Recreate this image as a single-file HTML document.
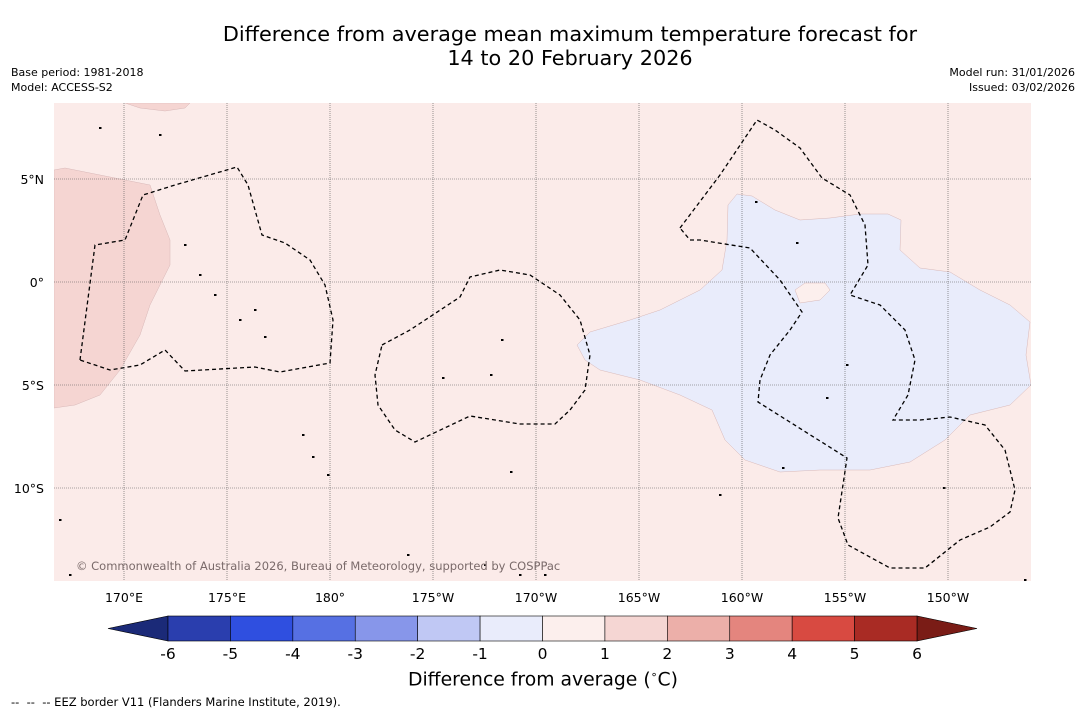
<!DOCTYPE html>
<html><head><meta charset="utf-8"><style>
body{margin:0;background:#fff;font-family:"DejaVu Sans",sans-serif;}
#wrap{position:relative;width:1085px;height:713px;overflow:hidden;background:#fff}
.t{position:absolute;white-space:nowrap;color:#000}
</style></head><body>
<div id="wrap">
<div class="t" style="left:0;width:1140px;text-align:center;top:22px;font-size:20.8px;line-height:24px">Difference from average mean maximum temperature forecast for<br>14 to 20 February 2026</div>
<div class="t" style="left:11px;top:65px;font-size:11px;line-height:15px">Base period: 1981-2018<br>Model: ACCESS-S2</div>
<div class="t" style="right:10px;top:65px;font-size:11px;line-height:15px;text-align:right">Model run: 31/01/2026<br>Issued: 03/02/2026</div>
<svg id="svg" width="1085" height="713" style="position:absolute;left:0;top:0"></svg>
<div class="t" style="left:408px;top:668px;font-size:18.8px">Difference from average (<sup style="font-size:11px">∘</sup>C)</div>
<div class="t" style="left:11px;top:695px;font-size:11.5px;white-space:pre">--  --  -- EEZ border V11 (Flanders Marine Institute, 2019).</div>
</div>
<script>
const lonTicks=[170,175,180,185,190,195,200,205,210];
const lonLabels=["170°E","175°E","180°","175°W","170°W","165°W","160°W","155°W","150°W"];
const latTicks=[5,0,-5,-10];
const latLabels=["5°N","0°","5°S","10°S"];
const cbTicks=[-6,-5,-4,-3,-2,-1,0,1,2,3,4,5,6];
const cbColors=["#2a3eae","#2f4fe0","#5670e3","#8796ea","#c0c8f4","#e9ecfb","#fcefed","#f5d6d3","#ecafa9","#e4857e","#d84a41","#a92b24"];
const P=p=>[170+(p[0]-124)/20.6,(282-p[1])/20.6];
const blueRegion=[[577,345],[590,332],[630,320],[660,310],[700,290],[722,270],[727,240],[728,205],[737,194],[752,196],[775,210],[800,220],[830,218],[860,214],[888,214],[901,220],[900,250],[920,268],[950,272],[980,290],[1010,305],[1030,322],[1026,355],[1031,385],[1010,405],[970,415],[945,440],[910,462],[870,470],[820,470],[780,472],[745,460],[725,440],[712,410],[680,395],[640,380],[600,370],[585,360]].map(P);
const pinkLeft=[[54,170],[65,168],[100,175],[150,185],[160,215],[170,240],[170,265],[160,285],[150,305],[140,335],[120,370],[100,395],[75,405],[54,408]].map(P);
const pinkTop=[[125,103],[190,103],[185,108],[165,111],[140,108]].map(P);
const pinkSpot=[[795,290],[805,283],[825,283],[830,290],[820,300],[800,303]].map(P);
const islands=[[100,128],[160,135],[185,245],[200,275],[215,295],[240,320],[255,310],[265,337],[303,435],[313,457],[328,475],[443,378],[491,375],[502,340],[511,472],[485,565],[520,575],[545,575],[408,555],[60,520],[70,575],[720,495],[756,202],[797,243],[847,365],[827,398],[783,468],[944,488],[1025,580]].map(P);
const eez=[
[[80,360],[95,245],[125,240],[143,195],[175,185],[237,167],[248,185],[262,235],[285,243],[310,260],[325,285],[333,320],[330,363],[280,372],[255,367],[185,371],[165,350],[140,365],[110,370],[80,360]],
[[382,345],[410,330],[460,297],[470,277],[500,270],[530,275],[560,295],[580,320],[590,355],[585,390],[570,410],[555,424],[520,424],[470,416],[415,442],[395,430],[378,405],[375,375],[382,345]],
[[680,228],[720,175],[757,120],[775,130],[800,148],[822,178],[850,195],[865,225],[868,265],[850,295],[880,305],[905,330],[915,360],[908,395],[893,420],[920,420],[950,417],[985,425],[1005,450],[1015,490],[1010,512],[990,527],[960,540],[925,568],[890,568],[848,545],[838,518],[847,458],[758,402],[760,380],[770,355],[790,330],[802,312],[780,280],[750,248],[700,240],[690,240],[680,228]]
].map(l=>l.map(P));
const X=lon=>124+(lon-170)*20.6, Y=lat=>282-lat*20.6;
const svg=document.getElementById('svg');const NS="http://www.w3.org/2000/svg";
function mk(t,a,p){const e=document.createElementNS(NS,t);for(const k in a)e.setAttribute(k,a[k]);(p||svg).appendChild(e);return e;}
const clip=mk('clipPath',{id:'mc'});mk('rect',{x:54,y:103,width:977,height:478},clip);
const g=mk('g',{'clip-path':'url(#mc)'});
const bg=mk('rect',{x:54,y:103,width:977,height:478,fill:'#fbebe9'},g);

function poly(pts,fill,name){const e=mk('polygon',{points:pts.map(p=>X(p[0])+','+Y(p[1])).join(' '),fill:fill,stroke:'#d8b8b8','stroke-width':0.5},g);

}
poly(pinkLeft,'#f5d5d2','anomaly-1-2-west');poly(pinkTop,'#f5d5d2','anomaly-1-2-north');
poly(blueRegion,'#e9ecfb','anomaly-minus1-0');poly(pinkSpot,'#fcefed','anomaly-0-1-spot');
islands.forEach(p=>{const e=mk('rect',{x:X(p[0])-1,y:Y(p[1])-1,width:2.5,height:2,fill:'#000'},g);
});
lonTicks.forEach((l,i)=>{const ln=mk('line',{x1:X(l),x2:X(l),y1:103,y2:581,stroke:'#555','stroke-width':0.6,'stroke-dasharray':'1,1'},g);

const t=mk('text',{x:X(l),y:602,'font-size':12.5,'text-anchor':'middle','font-family':'DejaVu Sans'});t.textContent=lonLabels[i];
});
latTicks.forEach((l,i)=>{const ln=mk('line',{x1:54,x2:1031,y1:Y(l),y2:Y(l),stroke:'#555','stroke-width':0.6,'stroke-dasharray':'1,1'},g);

const t=mk('text',{x:44,y:Y(l)+5,'font-size':12.5,'text-anchor':'end','font-family':'DejaVu Sans'});t.textContent=latLabels[i];
});
eez.forEach(l=>{const e=mk('polyline',{points:l.map(p=>X(p[0])+','+Y(p[1])).join(' '),fill:'none',stroke:'#000','stroke-width':1.3,'stroke-dasharray':'4,3'},g);
});
const cr=mk('text',{x:76,y:570,'font-size':11.5,fill:'#7a6a6a','font-family':'DejaVu Sans'},g);cr.textContent='© Commonwealth of Australia 2026, Bureau of Meteorology, supported by COSPPac';

const c0=168,c1=917,cy=616,ch=25,cw=(c1-c0)/12;
const CX=v=>c0+(v+6)*cw;
const la=mk('polygon',{points:`${c0},${cy} ${c0},${cy+ch} 108,${cy+ch/2}`,fill:'#1b2a78',stroke:'#000','stroke-width':0.6});

const ra=mk('polygon',{points:`${c1},${cy} ${c1},${cy+ch} 977,${cy+ch/2}`,fill:'#7a1c16',stroke:'#000','stroke-width':0.6});

cbColors.forEach((c,i)=>{const r=mk('rect',{x:CX(cbTicks[i]),y:cy,width:cw,height:ch,fill:c,stroke:'#000','stroke-width':0.6});
});
cbTicks.forEach(v=>{const t=mk('text',{x:CX(v),y:659,'font-size':15.5,'text-anchor':'middle','font-family':'DejaVu Sans'});t.textContent=v;
});
</script>
</body></html>
